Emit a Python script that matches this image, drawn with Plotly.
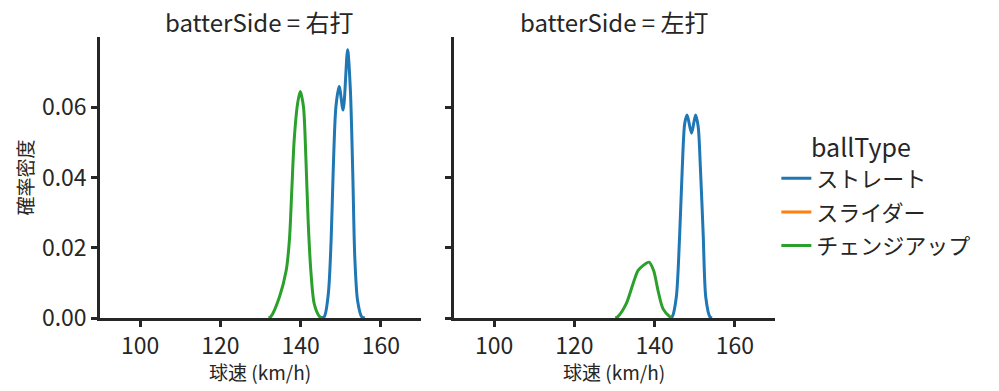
import plotly.graph_objects as go
from plotly.subplots import make_subplots

# ---- data ----
panels = ["右打", "左打"]
ball_types = ["ストレート", "スライダー", "チェンジアップ"]
colors = ["#1f77b4", "#ff7f0e", "#2ca02c"]

# 右打 panel
r_straight_x = [145.0, 145.9, 146.9, 147.6, 148.1, 148.8, 149.6, 150.6, 151.7, 152.4, 153.0, 153.5, 154.2, 155.2, 156.0]
r_straight_y = [0.0, 0.0004, 0.0069, 0.0221, 0.0411, 0.0602, 0.0659, 0.0592, 0.0764, 0.0649, 0.0411, 0.0173, 0.0049, 0.0004, 0.0]
r_change_x = [132.0, 132.6, 134.7, 136.4, 137.2, 137.8, 138.4, 139.25, 139.9, 140.7, 141.3, 141.9, 142.6, 143.4, 144.7, 145.3]
r_change_y = [0.0, 0.0004, 0.0059, 0.0135, 0.0221, 0.0364, 0.0507, 0.0611, 0.0645, 0.0602, 0.0459, 0.0269, 0.0126, 0.0040, 0.0004, 0.0]

# 左打 panel
l_straight_x = [143.8, 144.4, 145.4, 146.25, 146.9, 147.5, 148.1, 149.2, 150.2, 150.85, 151.4, 152.1, 152.75, 153.75, 154.3]
l_straight_y = [0.0, 0.0004, 0.0059, 0.0240, 0.0430, 0.0554, 0.0578, 0.0526, 0.0578, 0.0545, 0.0430, 0.0240, 0.0059, 0.0004, 0.0]
l_change_x = [130.2, 130.85, 132.9, 134.6, 135.85, 137.1, 138.6, 139.75, 140.85, 142.1, 143.75, 144.3]
l_change_y = [0.0, 0.0004, 0.0040, 0.0097, 0.0135, 0.0149, 0.0159, 0.0135, 0.0078, 0.0026, 0.0004, 0.0]

x_ticks = [100, 120, 140, 160]
y_ticks = [0.0, 0.02, 0.04, 0.06]

FONT = "Noto Sans CJK JP"
INK = "#262626"

fig = make_subplots(rows=1, cols=2, shared_yaxes=True, horizontal_spacing=0.0489)

series = {
    1: {"ストレート": (r_straight_x, r_straight_y), "チェンジアップ": (r_change_x, r_change_y)},
    2: {"ストレート": (l_straight_x, l_straight_y), "チェンジアップ": (l_change_x, l_change_y)},
}

for col in (1, 2):
    for name, color in zip(ball_types, colors):
        if name in series[col]:
            xs, ys = series[col][name]
        else:
            xs, ys = [None], [None]
        fig.add_trace(
            go.Scatter(
                x=xs, y=ys, mode="lines", name=name, legendgroup=name,
                showlegend=(col == 1),
                line=dict(color=color, width=3, shape="spline", smoothing=0.8),
            ),
            row=1, col=col,
        )

axis_common = dict(
    showline=True, linecolor=INK, linewidth=2.5, ticks="outside", ticklen=6,
    tickwidth=2.5, tickcolor=INK, showgrid=False, zeroline=False, automargin=False,
    tickfont=dict(family=FONT, size=23, color=INK),
)

for col in (1, 2):
    fig.update_xaxes(range=[90, 170], tickvals=x_ticks, ticktext=[str(t) for t in x_ticks],
                     row=1, col=col, **axis_common)
    fig.update_yaxes(range=[0, 0.08], tickvals=y_ticks, tickformat=".2f",
                     row=1, col=col, **axis_common)

fig.update_yaxes(title=dict(text="確率密度", font=dict(family=FONT, size=19, color=INK), standoff=4),
                 row=1, col=1)
fig.update_yaxes(showticklabels=False, row=1, col=2)

panel_centers = [0.2370, 0.7615]

# facet titles and x-axis titles
for p, xc in zip(panels, panel_centers):
    fig.add_annotation(text=f"batterSide = {p}", x=xc, y=1.0, xref="paper", yref="paper",
                       yanchor="middle", xanchor="center", yshift=16, showarrow=False,
                       font=dict(family=FONT, size=24, color=INK))
    fig.add_annotation(text="球速 (km/h)", x=xc, y=-0.19, xref="paper", yref="paper",
                       yanchor="middle", xanchor="center", showarrow=False,
                       font=dict(family=FONT, size=19, color=INK))

# legend title as annotation
fig.add_annotation(text="ballType", x=1.051, y=0.612, xref="paper", yref="paper",
                   xanchor="left", yanchor="middle", showarrow=False,
                   font=dict(family=FONT, size=25, color=INK))

fig.update_layout(
    width=999, height=391,
    margin=dict(l=100, r=224, t=37, b=73),
    paper_bgcolor="white", plot_bgcolor="white",
    legend=dict(x=1.002, y=0.377, xanchor="left", yanchor="middle",
                font=dict(family=FONT, size=22, color=INK), tracegroupgap=2,
                bgcolor="rgba(0,0,0,0)"),
)

# remove the browser's default 8px page margin so the figure fills the window
fig.write_html("out.html", config={"displayModeBar": False},
               post_script="document.body.style.margin='0px';")
